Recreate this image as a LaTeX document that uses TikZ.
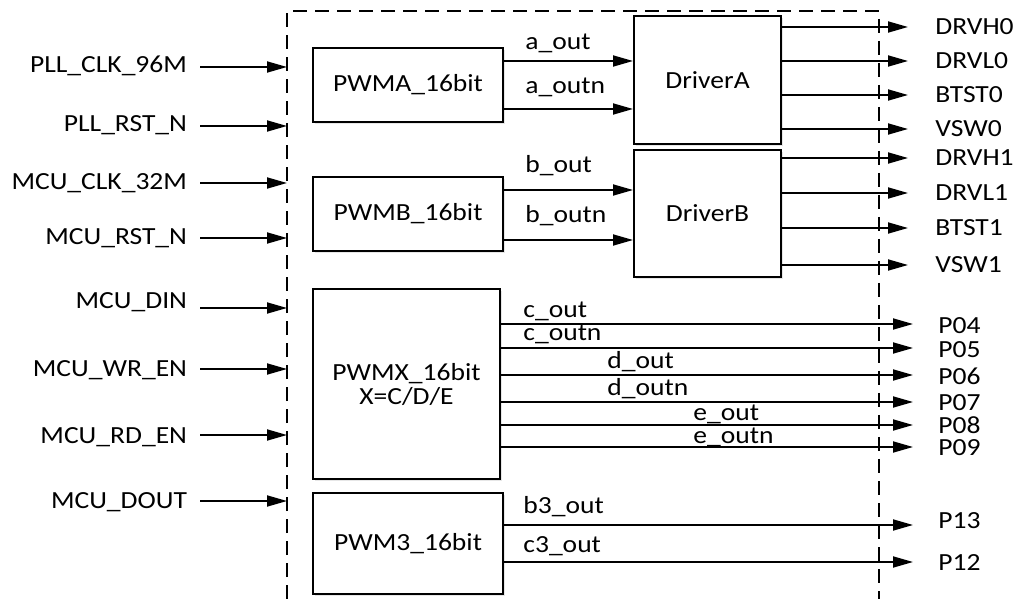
\documentclass[tikz,border=0pt]{standalone}
\usepackage{fontspec}
\setmainfont{Carlito}[FakeStretch=1.12]
\usetikzlibrary{arrows.meta, positioning, shadows}

\tikzset{
  block/.style={draw, fill=white, line width=1pt, inner sep=0pt, align=center,
    font=\fontsize{12.3}{12}\selectfont,
    drop shadow={opacity=0.2, shadow xshift=1pt, shadow yshift=-1pt}},
  pin/.style={font=\fontsize{12.3}{14}\selectfont, inner sep=0pt},
  wire/.style={line width=0.9pt, -{Triangle[length=10pt, width=5.5pt]}},
}

\begin{document}
\begin{tikzpicture}[x=0.5pt, y=-0.5pt]
  \useasboundingbox (0,0) rectangle (1019,599);
  % chip boundary, open at the bottom
  \draw[line width=0.7pt, dash pattern=on 7pt off 4pt] (287,599) -- (287,11) -- (879,11) -- (879,599);

  % PWM blocks
  \node[block, minimum width=95pt, minimum height=37pt] (pwma) at (408,85) {PWMA\_16bit};
  \node[block, minimum width=95pt, minimum height=37pt] (pwmb) at (408,214) {PWMB\_16bit};
  \node[block, minimum width=93.5pt, minimum height=95pt] (pwmx) at (406.5,384) {PWMX\_16bit\\X=C/D/E};
  \node[block, minimum width=95pt, minimum height=50.5pt] (pwm3) at (408,543.5) {PWM3\_16bit};
  % gate drivers
  \node[block, minimum width=73.5pt, minimum height=64pt] (drva) at (707.5,80) {DriverA};
  \node[block, minimum width=73.5pt, minimum height=63.5pt] (drvb) at (707.5,213.5) {DriverB};

  % chip inputs
  \foreach \name/\txt/\y/\base in {pllclk/PLL\_CLK\_96M/67/73, pllrst/PLL\_RST\_N/126/132,
      mcuclk/MCU\_CLK\_32M/183/190, mcurst/MCU\_RST\_N/238/245, mcudin/MCU\_DIN/308/308,
      mcuwr/MCU\_WR\_EN/369/377, mcurd/MCU\_RD\_EN/435/443, mcudout/MCU\_DOUT/501/508} {
    \coordinate (\name-in) at (287,\y);
    \node[pin, anchor=base east, outer xsep=6.5pt] (\name) at (200,\base) {\txt};
    \draw[wire] (\name.east |- \name-in) -- (\name-in);
  }

  % PWM -> driver
  \foreach \name/\txt/\y/\base/\src/\dst in {aout/a\_out/61/50/pwma/drva, aoutn/a\_outn/109/94/pwma/drva,
      bout/b\_out/190/173/pwmb/drvb, boutn/b\_outn/240/223/pwmb/drvb} {
    \coordinate (\name-y) at (0,\y);
    \node[pin, anchor=base west] (\name) at (525,\base) {\txt};
    \draw[wire] (\src.east |- \name-y) -- (\dst.west |- \name-y);
  }

  % driver outputs
  \foreach \name/\txt/\y/\src in {drvh0/DRVH0/27/drva, drvl0/DRVL0/61/drva, btst0/BTST0/95/drva,
      vsw0/VSW0/129/drva, drvh1/DRVH1/158/drvb, drvl1/DRVL1/193/drvb, btst1/BTST1/228/drvb,
      vsw1/VSW1/265/drvb} {
    \coordinate (\name-out) at (908,\y);
    \node[pin, anchor=west] (\name) at (935,\y) {\txt};
    \draw[wire] (\src.east |- \name-out) -- (\name-out);
  }

  % PWMX and PWM3 outputs
  \foreach \name/\txt/\y/\ly/\src in {p04/P04/324/326/pwmx, p05/P05/348/350/pwmx, p06/P06/375/376/pwmx,
      p07/P07/402/403/pwmx, p08/P08/425/425/pwmx, p09/P09/447/448/pwmx,
      p13/P13/525/521/pwm3, p12/P12/562/563/pwm3} {
    \coordinate (\name-out) at (913,\y);
    \node[pin, anchor=west] (\name) at (938,\ly) {\txt};
    \draw[wire] (\src.east |- \name-out) -- (\name-out);
  }

  % wire names
  \node[pin, anchor=base west] (cout)  at (523,318) {c\_out};
  \node[pin, anchor=base west] (coutn) at (523,341) {c\_outn};
  \node[pin, anchor=base west] (dout)  at (607,368) {d\_out};
  \node[pin, anchor=base west] (doutn) at (607,395) {d\_outn};
  \node[pin, anchor=base west] (eout)  at (693,420) {e\_out};
  \node[pin, anchor=base west] (eoutn) at (693,444) {e\_outn};
  \node[pin, anchor=base west] (b3out) at (523,513) {b3\_out};
  \node[pin, anchor=base west] (c3out) at (523,552) {c3\_out};
\end{tikzpicture}
\end{document}
